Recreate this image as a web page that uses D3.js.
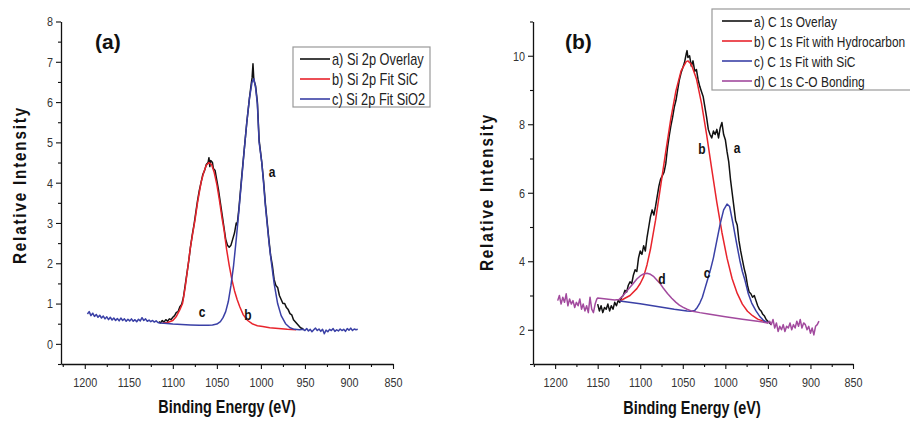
<!DOCTYPE html>
<html><head><meta charset="utf-8">
<script src="https://cdn.jsdelivr.net/npm/d3@7"></script>
<style>
html,body{margin:0;padding:0;background:#fff;overflow:hidden;}
svg{display:block;font-family:"Liberation Sans",Arial,sans-serif;}
</style></head><body>
<svg id="c" width="910" height="423"></svg>
<script>
// ---------------- DATA ----------------
const xMajor = [1200, 1150, 1100, 1050, 1000, 950, 900, 850];
const xMinor = [1225, 1175, 1125, 1075, 1025, 975, 925, 875];
const yMajorA = [0, 1, 2, 3, 4, 5, 6, 7, 8];
const yMinorA = [-0.5, 0.5, 1.5, 2.5, 3.5, 4.5, 5.5, 6.5, 7.5];
const yMajorB = [2, 4, 6, 8, 10];
const yMinorB = [1, 3, 5, 7, 9, 11];

const legendA = ["a) Si 2p Overlay", "b) Si 2p Fit SiC", "c) Si 2p Fit SiO2"];
const legendB = ["a) C 1s Overlay", "b) C 1s Fit with Hydrocarbon", "c) C 1s Fit with SiC", "d) C 1s C-O Bonding"];

// Panel (a): Si 2p
const siOverlay = [[1116,0.55],[1114,0.52],[1112,0.58],[1110,0.54],[1108,0.60],[1106,0.56],[1104,0.62],[1102,0.60],[1100,0.66],[1098,0.70],[1096,0.78],[1094,0.80],[1092,0.92],[1090,0.98],[1088,1.15],[1086,1.45],[1084,1.75],[1082,2.05],[1080,2.4],[1078,2.7],[1076,2.95],[1074,3.25],[1072,3.55],[1070,3.8],[1068,4.0],[1066,4.2],[1064,4.3],[1062,4.45],[1060,4.5],[1059,4.62],[1058,4.4],[1057,4.55],[1055,4.5],[1054,4.35],[1052,4.3],[1050,4.05],[1048,3.8],[1046,3.5],[1044,3.2],[1042,2.9],[1040,2.6],[1038,2.45],[1036,2.4],[1034,2.45],[1032,2.6],[1030,2.75],[1028,3.0],[1027,2.95],[1025,3.35],[1022,4.1],[1019,4.8],[1016,5.5],[1013,6.1],[1011,6.45],[1010,6.6],[1009,6.95],[1008,6.55],[1006,6.4],[1004,6.0],[1002,5.05],[999,4.5],[997,4.05],[995,3.5],[993,3.05],[991,2.6],[989,2.2],[987,1.95],[985,1.6],[983,1.45],[981,1.4],[979,1.2],[977,1.1],[975,1.0],[973,1.0],[971,0.9],[969,0.85],[967,0.75],[965,0.72],[963,0.6],[961,0.55],[959,0.5],[957,0.45],[955,0.4],[953,0.38],[951,0.35]];
const siFitSiC = [[1112,0.51],[1106,0.53],[1100,0.58],[1096,0.68],[1092,0.85],[1089,1.0],[1086,1.4],[1083,1.9],[1080,2.4],[1077,2.8],[1075,3.05],[1072,3.5],[1068,4.0],[1065,4.25],[1062,4.43],[1059,4.5],[1056,4.45],[1053,4.25],[1050,3.95],[1047,3.55],[1044,3.1],[1042,2.85],[1039,2.35],[1036,1.95],[1033,1.6],[1030,1.32],[1027,1.1],[1024,0.92],[1020,0.72],[1015,0.58],[1010,0.5],[1004,0.45],[998,0.43],[990,0.4],[980,0.38],[970,0.36],[960,0.35]];
const siFitSiO2 = [[1197,0.74],[1195,0.80],[1193,0.70],[1191,0.76],[1189,0.68],[1187,0.73],[1185,0.66],[1183,0.71],[1181,0.64],[1179,0.69],[1177,0.62],[1175,0.67],[1173,0.60],[1171,0.66],[1169,0.59],[1167,0.64],[1165,0.58],[1163,0.63],[1161,0.57],[1159,0.64],[1157,0.58],[1155,0.62],[1153,0.56],[1151,0.61],[1149,0.57],[1147,0.62],[1145,0.56],[1143,0.60],[1141,0.55],[1139,0.61],[1137,0.57],[1135,0.65],[1133,0.58],[1131,0.62],[1129,0.56],[1127,0.59],[1125,0.55],[1123,0.58],[1121,0.54],[1119,0.57],[1117,0.53],[1115,0.52],[1110,0.51],[1100,0.49],[1090,0.48],[1080,0.47],[1070,0.46],[1060,0.46],[1055,0.47],[1050,0.49],[1046,0.55],[1043,0.65],[1040,0.8],[1037,1.05],[1034,1.45],[1031,1.95],[1028,2.6],[1025,3.3],[1022,4.05],[1019,4.8],[1016,5.5],[1013,6.1],[1010,6.5],[1008,6.58],[1006,6.35],[1004,5.95],[1002,5.0],[999,4.5],[997,4.0],[995,3.45],[993,3.0],[990.5,2.45],[988,2.0],[985,1.5],[981,1.0],[977,0.7],[972,0.5],[967,0.4],[962,0.36],[956,0.35],[952,0.36],[950,0.33],[948,0.38],[946,0.32],[944,0.36],[942,0.30],[940,0.35],[938,0.39],[936,0.33],[934,0.37],[932,0.31],[930,0.36],[928,0.25],[926,0.34],[924,0.30],[922,0.36],[920,0.33],[918,0.38],[916,0.31],[914,0.35],[912,0.32],[910,0.37],[908,0.33],[906,0.36],[904,0.31],[902,0.38],[900,0.34],[898,0.39],[896,0.33],[894,0.37],[892,0.35],[890,0.36]];

// Panel (b): C 1s
const cOverlay = [[1150,2.75],[1148,2.55],[1146,2.7],[1144,2.5],[1142,2.65],[1140,2.6],[1138,2.75],[1136,2.55],[1134,2.7],[1132,2.6],[1130,2.8],[1128,2.7],[1126,2.85],[1124,2.8],[1122,2.95],[1120,3.0],[1118,3.15],[1116,3.1],[1114,3.3],[1112,3.4],[1110,3.35],[1108,3.6],[1106,3.75],[1104,3.7],[1102,4.1],[1100,4.3],[1098,4.2],[1096,4.45],[1094,4.3],[1092,4.7],[1090,5.0],[1088,5.3],[1086,5.5],[1084,5.35],[1082,5.6],[1080,5.9],[1078,6.2],[1076,6.4],[1074,6.5],[1072,6.6],[1070,6.85],[1068,7.3],[1066,7.65],[1064,7.95],[1062,8.2],[1060,8.5],[1058,8.7],[1056,9.0],[1054,9.3],[1052,9.5],[1050,9.65],[1048,9.8],[1046,10.05],[1045,10.15],[1044,9.95],[1042,10.0],[1040,9.7],[1038,9.85],[1036,9.55],[1034,9.6],[1032,9.3],[1030,9.1],[1028,8.95],[1026,8.8],[1024,8.5],[1022,8.2],[1020,7.85],[1018,7.7],[1016,7.6],[1014,7.8],[1012,7.7],[1010,7.85],[1008,7.6],[1006,7.9],[1004,8.05],[1002,7.7],[1000,7.55],[998,7.2],[996,6.9],[994,6.4],[992,6.0],[990,5.6],[988,5.2],[986,5.05],[984,4.6],[982,4.3],[980,4.05],[978,3.8],[976,3.6],[974,3.3],[972,3.1],[970,3.05],[968,2.95],[966,3.0],[964,2.85],[962,2.7],[960,2.6],[958,2.55],[956,2.45],[954,2.4],[952,2.3],[950,2.25],[948,2.2],[946,2.15]];
const cFitHydrocarbon = [[1124,2.84],[1118,2.92],[1112,3.0],[1104,3.2],[1100,3.35],[1096,3.55],[1092,3.9],[1088,4.35],[1082,5.2],[1076,6.2],[1070,7.2],[1064,8.17],[1058,8.98],[1052,9.56],[1046,9.83],[1044,9.85],[1040,9.75],[1034,9.33],[1028,8.61],[1022,7.7],[1016,6.7],[1010,5.72],[1004,4.84],[998,4.09],[992,3.49],[986,3.06],[980,2.75],[974,2.54],[968,2.41],[962,2.31],[956,2.26],[950,2.2]];
const cFitSiC = [[1124,2.84],[1100,2.76],[1080,2.68],[1060,2.6],[1045,2.55],[1040,2.54],[1036,2.56],[1033,2.65],[1030,2.78],[1027,2.95],[1024,3.2],[1021,3.45],[1017,3.8],[1014,4.1],[1010,4.6],[1006,5.1],[1002,5.5],[998,5.67],[995,5.6],[991,5.1],[987,4.55],[983,4.03],[980,3.7],[977,3.45],[973,3.05],[969,2.78],[964,2.55],[959,2.37],[955,2.27],[950,2.2]];
const cCOBonding = [[1197,2.85],[1195,3.0],[1193,2.75],[1191,2.95],[1189,2.8],[1187,3.05],[1185,2.7],[1183,2.9],[1181,2.75],[1179,2.85],[1177,2.65],[1175,2.8],[1173,2.7],[1171,2.9],[1169,2.6],[1167,2.75],[1165,2.55],[1163,2.7],[1161,2.5],[1159,2.95],[1157,2.6],[1155,2.5],[1153,2.75],[1151,2.9],[1150,2.93],[1140,2.9],[1130,2.87],[1125,2.88],[1121,2.98],[1116,3.12],[1112,3.24],[1108,3.36],[1104,3.48],[1100,3.57],[1096,3.63],[1092,3.65],[1088,3.62],[1084,3.55],[1080,3.44],[1077,3.36],[1073,3.22],[1068,3.06],[1063,2.92],[1058,2.8],[1054,2.72],[1050,2.66],[1045,2.6],[1040,2.55],[1030,2.5],[1020,2.46],[1000,2.38],[980,2.31],[960,2.24],[950,2.2],[948,2.25],[946,2.15],[944,2.3],[942,2.05],[940,2.2],[938,1.95],[936,2.1],[934,2.0],[932,2.15],[930,1.95],[928,2.1],[926,2.05],[924,2.2],[922,2.0],[920,2.15],[918,2.05],[916,2.25],[914,2.1],[912,2.3],[910,2.05],[908,2.2],[906,2.15],[904,2.0],[902,2.1],[900,1.9],[898,2.05],[896,1.85],[894,2.1],[892,2.15],[890,2.25]];

// ---------------- DRAW ----------------
const C = {black:"#111111", red:"#e8242c", blue:"#3a40a6", purple:"#a24a9e"};
const svg = d3.select("#c");
const SQ = 0.8;

function sqText(g, x, y, txt, size, weight, anchor, color, sx) {
  return g.append("text")
    .attr("transform", `translate(${x},${y}) scale(${sx},1)`)
    .attr("text-anchor", anchor).attr("font-size", size).attr("font-weight", weight)
    .attr("fill", color).text(txt);
}

function panel(cfg) {
  const g = svg.append("g");
  const x = d3.scaleLinear().domain(cfg.xDomain).range(cfg.xRange);
  const y = d3.scaleLinear().domain(cfg.yDomain).range([364, 21.5]);
  const x0 = cfg.xRange[0];

  g.append("g").attr("transform", "translate(0,364)")
    .call(d3.axisBottom(x).tickValues(xMinor).tickSize(3).tickSizeOuter(0).tickFormat(""))
    .call(a => a.select(".domain").remove());
  g.append("g").attr("transform", `translate(${x0},0)`)
    .call(d3.axisLeft(y).tickValues(cfg.yMinor).tickSize(3).tickSizeOuter(0).tickFormat(""))
    .call(a => a.select(".domain").remove());
  const xa = g.append("g").attr("transform", "translate(0,364)")
    .call(d3.axisBottom(x).tickValues(xMajor).tickSize(5).tickSizeOuter(0).tickFormat(d3.format("d")));
  xa.selectAll("text").attr("y", 13).attr("dy", "0.71em").attr("font-size", 13.5)
    .attr("fill", "#333").attr("transform", `scale(${SQ},1)`).attr("font-family", null);
  const ya = g.append("g").attr("transform", `translate(${x0},0)`)
    .call(d3.axisLeft(y).tickValues(cfg.yMajor).tickSize(5).tickSizeOuter(0).tickFormat(d3.format("d")));
  ya.selectAll("text").attr("x", -10).attr("font-size", 13.5)
    .attr("fill", "#333").attr("transform", `scale(${SQ},1)`).attr("font-family", null);
  g.selectAll(".domain, .tick line").attr("stroke", "#111").attr("stroke-width", 1.3);
  g.selectAll(".tick line").attr("stroke-width", 1.1);

  const line = d3.line().x(d => x(d[0])).y(d => y(d[1]));
  cfg.series.forEach(s => {
    g.append("path").datum(s.data).attr("d", line).attr("fill", "none")
      .attr("stroke", s.color).attr("stroke-width", 1.5).attr("stroke-linejoin", "round");
  });

  cfg.marks.forEach(m => sqText(g, m[0], m[1], m[2], 15, "bold", "middle", "#111", SQ));

  g.append("text").attr("x", cfg.letter[0]).attr("y", cfg.letter[1]).attr("font-size", 21)
    .attr("font-weight", "bold").attr("fill", "#111").text(cfg.letter[2]);

  sqText(g, cfg.xTitle[0], cfg.xTitle[1], "Binding Energy (eV)", 18, "bold", "middle", "#111", SQ);
  g.append("text")
    .attr("transform", `translate(${cfg.yTitle[0]},${cfg.yTitle[1]}) rotate(-90) scale(${SQ},1)`)
    .attr("text-anchor", "middle").attr("font-size", 19).attr("font-weight", "bold")
    .attr("letter-spacing", 2.3).attr("fill", "#111").text("Relative Intensity");

  const L = cfg.legend;
  g.append("rect").attr("x", L.x).attr("y", L.y).attr("width", L.w).attr("height", L.h)
    .attr("fill", "#fff").attr("stroke", "#999").attr("stroke-width", 1.2);
  L.labels.forEach((t, i) => {
    const ry = L.row0 + i * 20;
    g.append("line").attr("x1", L.lx).attr("x2", L.lx + 30).attr("y1", ry).attr("y2", ry)
      .attr("stroke", L.colors[i]).attr("stroke-width", 1.6);
    sqText(g, L.lx + 32, ry + 5.5, t, L.fs, "normal", "start", "#222", L.sx);
  });
}

panel({
  xDomain: [1227, 850], xRange: [61, 393],
  yDomain: [-0.5, 8], yMajor: yMajorA, yMinor: yMinorA,
  series: [{data: siOverlay, color: C.black}, {data: siFitSiC, color: C.red}, {data: siFitSiO2, color: C.blue}],
  marks: [[272, 177, "a"], [202, 317, "c"], [248, 320, "b"]],
  letter: [95, 49, "(a)"],
  xTitle: [227, 413], yTitle: [26, 185],
  legend: {x: 293, y: 47, w: 137, h: 60, row0: 59, lx: 300, fs: 16, sx: 0.8, labels: legendA, colors: [C.black, C.red, C.blue]}
});

panel({
  xDomain: [1226, 850], xRange: [533, 853],
  yDomain: [1, 11], yMajor: yMajorB, yMinor: yMinorB,
  series: [{data: cOverlay, color: C.black}, {data: cFitHydrocarbon, color: C.red}, {data: cFitSiC, color: C.blue}, {data: cCOBonding, color: C.purple}],
  marks: [[702, 154, "b"], [737, 153, "a"], [662, 284, "d"], [707, 278, "c"]],
  letter: [565, 49, "(b)"],
  xTitle: [692, 414], yTitle: [493, 192],
  legend: {x: 712, y: 9, w: 210, h: 81, row0: 21, lx: 722, fs: 15.5, sx: 0.77, labels: legendB, colors: [C.black, C.red, C.blue, C.purple]}
});
</script>
</body></html>
